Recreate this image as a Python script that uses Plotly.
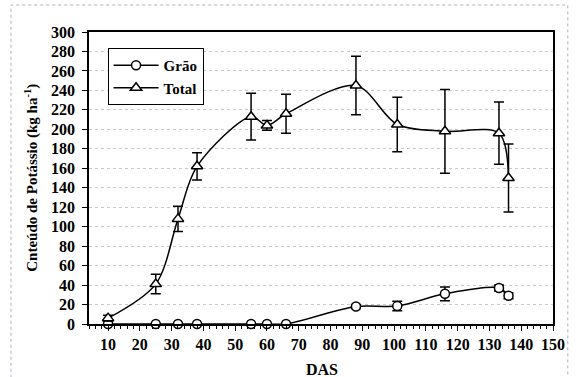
import plotly.graph_objects as go

das_total = [10, 25, 32, 38, 55, 60, 66, 88, 101, 116, 133, 136]
total = [6, 41, 108, 162, 213, 204, 216, 245, 205, 198, 196, 150]
total_err = [3, 10, 13, 14, 24, 5, 20, 30, 28, 43, 32, 35]

das_grao = [10, 25, 32, 38, 55, 60, 66, 88, 101, 116, 133, 136]
grao = [0, 0, 0, 0, 0, 0, 0, 18, 18.5, 31, 37, 29]
grao_err = [0, 0, 0, 0, 0, 0, 0, 2, 5, 7, 3, 3]

xticks = list(range(10, 151, 10))
yticks = list(range(0, 301, 20))

FONT = "Liberation Serif"

fig = go.Figure()
fig.add_trace(go.Scatter(
    x=das_grao, y=grao, name="Grão", mode="lines+markers",
    line=dict(color="black", width=1.5, shape="spline", smoothing=0.9),
    marker=dict(symbol="circle", size=9, color="white", line=dict(color="black", width=1.5)),
    error_y=dict(type="data", array=grao_err, visible=True, color="black", thickness=1.5, width=5),
    cliponaxis=False,
))
fig.add_trace(go.Scatter(
    x=das_total, y=total, name="Total", mode="lines+markers",
    line=dict(color="black", width=1.5, shape="spline", smoothing=0.9),
    marker=dict(symbol="triangle-up", size=10, color="white", line=dict(color="black", width=1.5)),
    error_y=dict(type="data", array=total_err, visible=True, color="black", thickness=1.5, width=5),
    cliponaxis=False,
))

fig.update_layout(
    width=577, height=377,
    margin=dict(l=89, r=18, t=32, b=53),
    paper_bgcolor="white", plot_bgcolor="white",
    font=dict(family=FONT, color="black", size=16),
    showlegend=True,
    legend=dict(
        x=0.04, y=0.945, xanchor="left", yanchor="top",
        bgcolor="white", bordercolor="black", borderwidth=1,
        font=dict(family=FONT, size=15, weight="bold", color="black"),
        itemwidth=45, tracegroupgap=0,
    ),
    xaxis=dict(
        range=[4, 150], tickvals=xticks, ticktext=["<b>%d</b>" % v for v in xticks],
        showgrid=False, zeroline=False,
        showline=True, linecolor="black", linewidth=1.5, mirror=True,
        ticks="outside", ticklen=5, tickcolor="black", tickwidth=1,
        minor=dict(dtick=2, tick0=0, ticks="outside", ticklen=3, tickcolor="black", showgrid=False),
        tickfont=dict(family=FONT, size=16, color="black"),
    ),
    yaxis=dict(
        range=[0, 300], tickvals=yticks, ticktext=["<b>%d</b>" % v for v in yticks],
        showgrid=True, gridcolor="#c4c8d0", griddash="dot", gridwidth=1,
        zeroline=False,
        showline=True, linecolor="black", linewidth=1.5, mirror=True,
        ticks="outside", ticklen=5, tickcolor="black", tickwidth=1,
        ticklabelstandoff=4,
        tickfont=dict(family=FONT, size=16, color="black"),
    ),
    annotations=[
        dict(text="<b>Cnteúdo de Potássio (kg ha<sup>-1</sup>)</b>", xref="paper", yref="paper",
             x=(30 - 89) / 470, y=0.5, xanchor="center", yanchor="middle", textangle=-90,
             showarrow=False, font=dict(family=FONT, size=15, color="black")),
        dict(text="<b>DAS</b>", xref="paper", yref="paper",
             x=(325 - 89) / 470, y=-(369 - 324) / 292, xanchor="center", yanchor="middle",
             showarrow=False, font=dict(family=FONT, size=16, color="black")),
    ],
    shapes=[
        dict(type="rect", xref="paper", yref="paper",
             x0=(10 - 89) / 470, x1=(574 - 89) / 470,
             y0=-0.3, y1=1 + 27 / 292,
             line=dict(color="#a8b0c0", width=1, dash="dot"), layer="below"),
    ],
)

fig.write_html("out.html")
